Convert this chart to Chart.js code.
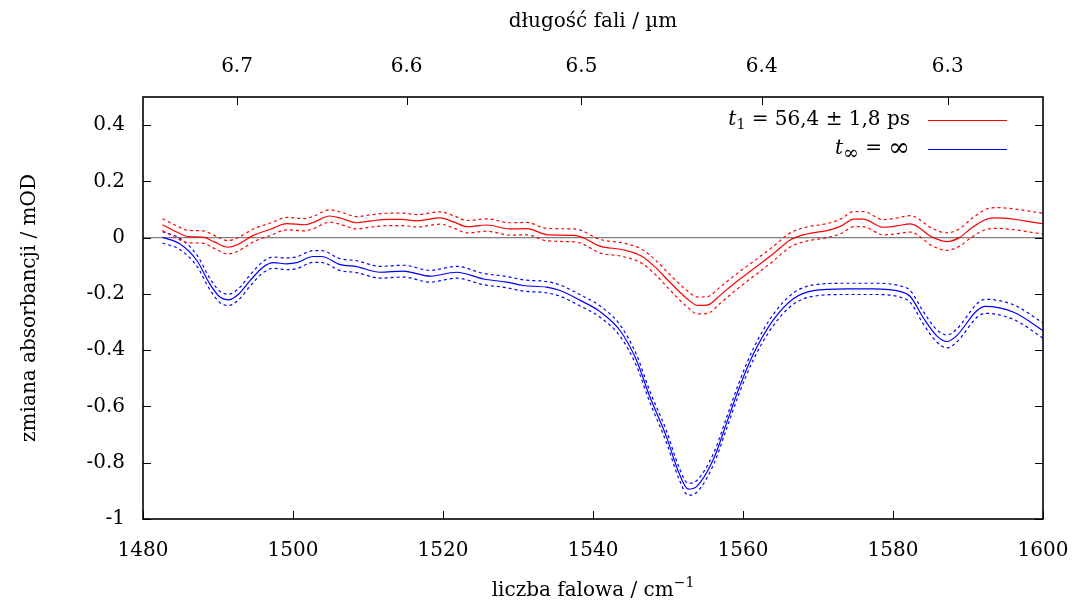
<!DOCTYPE html>
<html>
<head>
<meta charset="utf-8">
<script src="https://cdn.jsdelivr.net/npm/chart.js@4/dist/chart.umd.min.js"></script>
<style>
  html, body { margin: 0; padding: 0; background: #ffffff; }
  #wrap { width: 1073px; height: 603px; }
</style>
</head>
<body>
<div id="wrap"><canvas id="c" width="1073" height="603"></canvas></div>
<script>
// Decay-associated difference spectra, component t1
const wavenumbersT1 = [1482.6, 1484.5, 1486, 1488, 1489.5, 1491.3, 1492.6, 1494.7, 1497, 1499.2,
  1501.6, 1502.7, 1504.9, 1506.5, 1508.5, 1510.5, 1512.9, 1514.5, 1516.5, 1519.6,
  1521.5, 1523.2, 1525.8, 1528.9, 1531.2, 1533.8, 1537.4, 1538.5, 1540.9, 1544,
  1546.5, 1548.5, 1549.8, 1552.5, 1554, 1555.2, 1556.9, 1558.5, 1560.5, 1564,
  1566.3, 1568.5, 1571.2, 1573, 1574.8, 1576, 1578.7, 1580.5, 1582.3, 1585.3,
  1587.2, 1588.9, 1590.5, 1592.5, 1593.8, 1600];
const absorbanceT1 = [0.046, 0.020, 0.004, 0.002, -0.015, -0.034, -0.025, 0.008, 0.030, 0.050,
  0.046, 0.054, 0.077, 0.068, 0.053, 0.060, 0.065, 0.065, 0.060, 0.070,
  0.055, 0.039, 0.045, 0.031, 0.032, 0.011, 0.008, 0.002, -0.030, -0.043,
  -0.066, -0.110, -0.146, -0.216, -0.241, -0.240, -0.206, -0.170, -0.129, -0.058,
  -0.008, 0.013, 0.025, 0.040, 0.066, 0.066, 0.037, 0.042, 0.049, 0.001,
  -0.014, 0.001, 0.035, 0.066, 0.070, 0.050];
const errorT1 = [0.021, 0.022, 0.022, 0.022, 0.023, 0.024, 0.024, 0.023, 0.022, 0.022,
  0.022, 0.022, 0.022, 0.022, 0.022, 0.022, 0.022, 0.022, 0.022, 0.022,
  0.022, 0.022, 0.022, 0.022, 0.022, 0.022, 0.023, 0.023, 0.024, 0.024,
  0.025, 0.026, 0.027, 0.029, 0.030, 0.030, 0.029, 0.028, 0.027, 0.026,
  0.025, 0.025, 0.025, 0.026, 0.027, 0.027, 0.027, 0.028, 0.029, 0.031,
  0.031, 0.031, 0.033, 0.036, 0.037, 0.037];

// Component t_inf (non-decaying)
const wavenumbersTinf = [1482.6, 1484.9, 1487.2, 1488.9, 1490.3, 1491.4, 1492.7, 1494.3, 1496, 1497.4,
  1499.2, 1500.5, 1502.7, 1503.8, 1506.3, 1508.5, 1511.6, 1514.7, 1518.3, 1521.8,
  1525.4, 1528.5, 1530.7, 1533.8, 1535.6, 1538.3, 1540.9, 1543.6, 1545.8, 1547.5,
  1549.8, 1551.4, 1552.7, 1553.8, 1556.1, 1557.8, 1559.4, 1561.4, 1564, 1566.7,
  1569.4, 1573.8, 1577.4, 1580.9, 1582.3, 1584, 1585.8, 1587.2, 1588.5, 1591.2,
  1592.3, 1596.1, 1600];
const absorbanceTinf = [0.001, -0.022, -0.082, -0.164, -0.212, -0.221, -0.202, -0.152, -0.105, -0.089,
  -0.093, -0.089, -0.067, -0.067, -0.096, -0.103, -0.123, -0.119, -0.137, -0.123,
  -0.147, -0.158, -0.170, -0.176, -0.188, -0.223, -0.262, -0.330, -0.436, -0.560,
  -0.708, -0.832, -0.894, -0.885, -0.785, -0.660, -0.540, -0.413, -0.294, -0.217,
  -0.188, -0.182, -0.182, -0.191, -0.209, -0.283, -0.348, -0.369, -0.348, -0.259,
  -0.244, -0.265, -0.330];
const errorTinf = [0.020, 0.020, 0.020, 0.020, 0.020, 0.020, 0.020, 0.020, 0.020, 0.020,
  0.021, 0.021, 0.021, 0.021, 0.021, 0.021, 0.021, 0.021, 0.021, 0.021,
  0.020, 0.020, 0.020, 0.020, 0.020, 0.020, 0.020, 0.020, 0.020, 0.020,
  0.021, 0.021, 0.021, 0.021, 0.020, 0.020, 0.020, 0.020, 0.020, 0.020,
  0.020, 0.020, 0.020, 0.020, 0.021, 0.022, 0.022, 0.023, 0.023, 0.024,
  0.025, 0.026, 0.027];

// Axis ticks
const wavenumberTicks = [1480, 1500, 1520, 1540, 1560, 1580, 1600];
const absorbanceTicks = [0.4, 0.2, 0, -0.2, -0.4, -0.6, -0.8, -1];
const wavelengthTicks = [6.7, 6.6, 6.5, 6.4, 6.3];

const FONT = "'DejaVu Serif', 'Liberation Serif', serif";
const FS = 20;
const RED = '#ff0000';
const BLUE = '#0000ff';

function pts(xs, ys, offs, sign) {
  return xs.map((x, i) => ({ x: x, y: ys[i] + (offs ? sign * offs[i] : 0) }));
}

function lineSet(data, color, dashed) {
  return {
    data: data,
    borderColor: color,
    backgroundColor: color,
    borderWidth: 1.2,
    borderDash: dashed ? [3, 3] : [],
    pointRadius: 0,
    fill: false,
    cubicInterpolationMode: 'monotone',
    showLine: true
  };
}

const datasets = [
  lineSet(pts(wavenumbersT1, absorbanceT1, errorT1, 1), RED, true),
  lineSet(pts(wavenumbersT1, absorbanceT1, errorT1, -1), RED, true),
  lineSet(pts(wavenumbersT1, absorbanceT1), RED, false),
  lineSet(pts(wavenumbersTinf, absorbanceTinf, errorTinf, 1), BLUE, true),
  lineSet(pts(wavenumbersTinf, absorbanceTinf, errorTinf, -1), BLUE, true),
  lineSet(pts(wavenumbersTinf, absorbanceTinf), BLUE, false)
];

// rich text: parts drawn left to right, each with its own style/offset
function partFont(p) {
  return (p.italic ? 'italic ' : '') + Math.round(FS * (p.scale || 1)) + 'px ' + FONT;
}
function richWidth(ctx, parts) {
  let w = 0;
  parts.forEach(p => { ctx.font = partFont(p); w += ctx.measureText(p.t).width; });
  return w;
}
function drawRich(ctx, parts, x, y) {
  let cx = x;
  parts.forEach(p => {
    ctx.font = partFont(p);
    ctx.fillText(p.t, cx, y + (p.dy || 0));
    cx += ctx.measureText(p.t).width;
  });
}

const legendEntries = [
  { color: RED, parts: [{ t: 't', italic: true }, { t: '1', scale: 0.72, dy: 5 }, { t: ' = 56,4 ± 1,8 ps' }] },
  { color: BLUE, parts: [{ t: 't', italic: true }, { t: '∞', scale: 0.95, dy: 5 }, { t: ' = ' }, { t: '∞', scale: 1.3 }] }
];

const framePlugin = {
  id: 'frame',
  beforeDatasetsDraw(chart) {
    const { ctx, chartArea: a, scales } = chart;
    const y0 = scales.y.getPixelForValue(0);
    ctx.save();
    ctx.strokeStyle = '#808080';
    ctx.lineWidth = 1.2;
    ctx.beginPath();
    ctx.moveTo(a.left, y0);
    ctx.lineTo(a.right, y0);
    ctx.stroke();
    ctx.restore();
  },
  afterDraw(chart) {
    const { ctx, chartArea: a, scales } = chart;
    const TL = 8;
    ctx.save();
    ctx.strokeStyle = '#000000';
    ctx.lineWidth = 1;
    ctx.beginPath();
    wavenumberTicks.forEach(v => {
      const px = Math.round(scales.x.getPixelForValue(v)) + 0.5;
      ctx.moveTo(px, a.bottom); ctx.lineTo(px, a.bottom - TL);
    });
    wavelengthTicks.forEach(w => {
      const px = Math.round(scales.x2.getPixelForValue(10000 / w)) + 0.5;
      ctx.moveTo(px, a.top); ctx.lineTo(px, a.top + TL);
    });
    absorbanceTicks.forEach(v => {
      const py = Math.round(scales.y.getPixelForValue(v)) + 0.5;
      ctx.moveTo(a.left, py); ctx.lineTo(a.left + TL, py);
      ctx.moveTo(a.right, py); ctx.lineTo(a.right - TL, py);
    });
    ctx.stroke();
    ctx.lineWidth = 1.6;
    ctx.strokeRect(a.left, a.top, a.right - a.left, a.bottom - a.top);

    // legend
    ctx.fillStyle = '#000000';
    ctx.textBaseline = 'middle';
    ctx.textAlign = 'left';
    const textRight = 910, lineL = 928, lineR = 1007;
    legendEntries.forEach((e, i) => {
      const yy = 120 + i * 29;
      const w = richWidth(ctx, e.parts);
      drawRich(ctx, e.parts, textRight - w, yy);
      ctx.strokeStyle = e.color;
      ctx.lineWidth = 1.2;
      ctx.beginPath();
      ctx.moveTo(lineL, yy + 0.5); ctx.lineTo(lineR, yy + 0.5);
      ctx.stroke();
    });

    // axis titles
    const cx = (a.left + a.right) / 2;
    const top = [{ t: 'długość fali / µm' }];
    drawRich(ctx, top, cx - richWidth(ctx, top) / 2, 22);
    const bottom = [{ t: 'liczba falowa / cm' }, { t: '−1', scale: 0.72, dy: -8 }];
    drawRich(ctx, bottom, cx - richWidth(ctx, bottom) / 2, 591);
    ctx.save();
    ctx.translate(30, (a.top + a.bottom) / 2);
    ctx.rotate(-Math.PI / 2);
    const yt = [{ t: 'zmiana absorbancji / mOD' }];
    drawRich(ctx, yt, -richWidth(ctx, yt) / 2, 0);
    ctx.restore();
    ctx.restore();
  }
};

const tickFont = { family: FONT, size: FS };

// fixed axis boxes; labels may overhang the plot edges
function fixBox(w, h) {
  return s => {
    if (w !== null) s.width = w;
    if (h !== null) s.height = h;
    s.paddingLeft = 0; s.paddingRight = 0; s.paddingTop = 0; s.paddingBottom = 0;
  };
}

new Chart(document.getElementById('c'), {
  type: 'line',
  data: { datasets: datasets },
  options: {
    responsive: false,
    animation: false,
    devicePixelRatio: 1,
    layout: { padding: { left: 0, right: 30, top: 0, bottom: 0 } },
    plugins: { legend: { display: false }, tooltip: { enabled: false } },
    scales: {
      x: {
        type: 'linear', position: 'bottom', min: 1480, max: 1600,
        afterBuildTicks: s => { s.ticks = wavenumberTicks.map(v => ({ value: v })); },
        afterFit: fixBox(null, 84),
        ticks: { font: tickFont, color: '#000', padding: 20, maxRotation: 0, autoSkip: false, callback: v => String(v) },
        grid: { display: false, drawTicks: false },
        border: { display: false }
      },
      x2: {
        type: 'linear', position: 'top', min: 1480, max: 1600,
        afterBuildTicks: s => { s.ticks = wavelengthTicks.map(w => ({ value: 10000 / w })); },
        afterFit: fixBox(null, 97),
        ticks: { font: tickFont, color: '#000', padding: 18, maxRotation: 0, autoSkip: false,
          callback: v => (10000 / v).toFixed(1) },
        grid: { display: false, drawTicks: false },
        border: { display: false }
      },
      y: {
        type: 'linear', position: 'left', min: -1, max: 0.5,
        afterBuildTicks: s => { s.ticks = absorbanceTicks.map(v => ({ value: v })); },
        afterFit: fixBox(143, null),
        ticks: { font: tickFont, color: '#000', padding: 18, autoSkip: false,
          callback: v => (v === 0 ? '0' : (v === -1 ? '-1' : v.toFixed(1))) },
        grid: { display: false, drawTicks: false },
        border: { display: false }
      }
    }
  },
  plugins: [framePlugin]
});
</script>
</body>
</html>
